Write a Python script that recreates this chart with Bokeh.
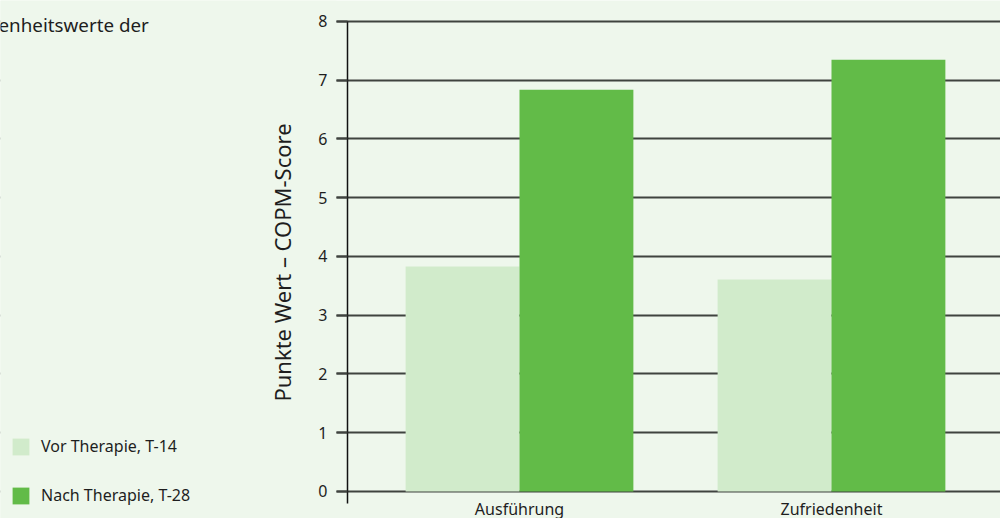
from bokeh.plotting import figure
from bokeh.models import (Range1d, Legend, LegendItem, Label, SingleIntervalTicker,
                          FixedTicker, ColumnDataSource, BoxAnnotation)
from bokeh.transform import dodge
from bokeh.embed import file_html
from bokeh.resources import INLINE

categories = ["Ausführung", "Zufriedenheit"]
vor_therapie = [3.83, 3.61]
nach_therapie = [6.84, 7.35]
series_labels = ["Vor Therapie, T-14", "Nach Therapie, T-28"]
y_label = "Punkte Wert – COPM-Score"
title_fragment = "enheitswerte der"

BG = "#eef7ec"
LIGHT = "#d1ebcb"
DARK = "#62bb48"
TEXT = "#1e1e1e"
GRID = "#3f433f"
FONT = "Noto Sans"

# layout (data units of the category-index axis and the score axis)
X_START, X_END = -1.6635, 1.5417
Y_AXIS_AT = -0.5513
TICK_LEN = 11 / 312
Y_START, Y_END = -0.4596, 8.3574
AXIS_BOTTOM, AXIS_TOP = -0.2043, 8

x_pos = list(range(len(categories)))
src = ColumnDataSource(dict(x=x_pos, vor=vor_therapie, nach=nach_therapie))

p = figure(width=1000, height=518, output_backend="svg", toolbar_location=None,
           x_range=Range1d(X_START, X_END), y_range=Range1d(Y_START, Y_END),
           min_border=0,
           background_fill_color=BG, border_fill_color=BG, outline_line_color=None)

p.ygrid.grid_line_color = GRID
p.ygrid.grid_line_width = 2
p.ygrid.ticker = SingleIntervalTicker(interval=1, num_minor_ticks=0)
p.xgrid.grid_line_color = None

# mask grid left of the y-axis ticks
p.add_layout(BoxAnnotation(left=X_START - 1, right=Y_AXIS_AT - TICK_LEN, fill_color=BG, fill_alpha=1,
                           line_color=None, level="underlay"))

r1 = p.vbar(x=dodge("x", -0.1825), top="vor", width=0.365, source=src,
            fill_color=LIGHT, line_color=None)
r2 = p.vbar(x=dodge("x", 0.1825), top="nach", width=0.365, source=src,
            fill_color=DARK, line_color=None)

# y axis
ya = p.yaxis[0]
ya.fixed_location = Y_AXIS_AT
ya.bounds = (AXIS_BOTTOM, AXIS_TOP)
ya.ticker = SingleIntervalTicker(interval=1, num_minor_ticks=0)
ya.axis_line_color = "#111111"
ya.axis_line_width = 1.5
ya.major_tick_out = 11
ya.major_tick_in = 0
ya.major_tick_line_color = GRID
ya.major_tick_line_width = 2
ya.minor_tick_line_color = None
ya.major_label_text_font = FONT
ya.major_label_text_font_size = "16px"
ya.major_label_text_color = TEXT
ya.major_label_standoff = 9
ya.axis_label = y_label
ya.axis_label_text_font = FONT
ya.axis_label_text_font_size = "22px"
ya.axis_label_text_font_style = "normal"
ya.axis_label_text_color = TEXT
ya.axis_label_standoff = 18

# x axis
xa = p.xaxis[0]
xa.fixed_location = AXIS_BOTTOM
xa.ticker = FixedTicker(ticks=x_pos)
xa.major_label_overrides = {i: c for i, c in zip(x_pos, categories)}
xa.axis_line_color = None
xa.major_tick_line_color = None
xa.major_tick_out = 0
xa.major_tick_in = 0
xa.minor_tick_line_color = None
xa.minor_tick_out = 0
xa.major_label_text_font = FONT
xa.major_label_text_font_size = "16px"
xa.major_label_text_color = TEXT
xa.major_label_standoff = -6

legend = Legend(items=[LegendItem(label=series_labels[0], renderers=[r1]),
                       LegendItem(label=series_labels[1], renderers=[r2])],
                location=(10, 12), orientation="vertical",
                glyph_width=21, glyph_height=21, label_standoff=10, spacing=27,
                padding=0, margin=0, border_line_color=None, background_fill_alpha=0,
                label_text_font=FONT, label_text_font_size="16px", label_text_color=TEXT)
p.add_layout(legend, "center")

p.add_layout(Label(x=-2, y=494, x_units="screen", y_units="screen", text=title_fragment,
                   text_font=FONT, text_font_size="18.8px", text_color=TEXT, text_baseline="middle"))

open("out.html", "w").write(file_html(p, INLINE))
